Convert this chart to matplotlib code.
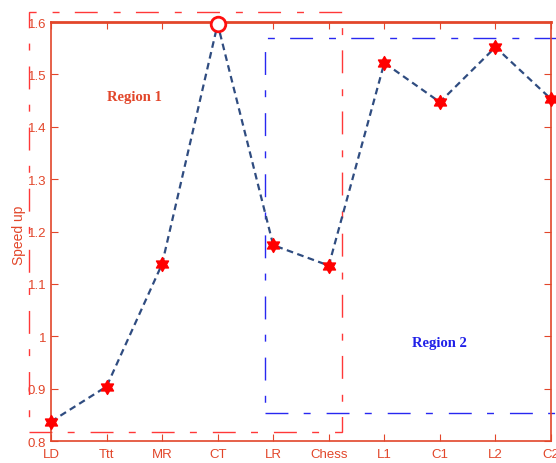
import matplotlib
matplotlib.use("Agg")
import matplotlib.pyplot as plt
from matplotlib.path import Path
from matplotlib.patches import Rectangle

categories = ['LD', 'Ttt', 'MR', 'CT', 'LR', 'Chess', 'L1', 'C1', 'L2', 'C2']
speedup = [0.837, 0.904, 1.138, 1.596, 1.174, 1.135, 1.522, 1.447, 1.552, 1.453]
yticks = [0.8, 0.9, 1.0, 1.1, 1.2, 1.3, 1.4, 1.5, 1.6]
ytick_labels = ['0.8', '0.9', '1', '1.1', '1.2', '1.3', '1.4', '1.5', '1.6']
peak_index = 3

ORANGE = '#E2462A'
LINE = '#2F4C80'

plt.rcParams['font.family'] = ['Liberation Sans', 'DejaVu Sans']
fig = plt.figure(figsize=(5.56, 4.64), dpi=100)
ax = fig.add_axes([0.0917, 0.0474, 0.8993, 0.903])

x = list(range(len(categories)))
ax.plot(x, speedup, color=LINE, lw=1.6, dashes=(3.0, 2.0), zorder=3, clip_on=False)

hexagram = Path.unit_regular_star(6, 0.577)
star_x = [xi for i, xi in enumerate(x) if i != peak_index]
star_y = [v for i, v in enumerate(speedup) if i != peak_index]
ax.plot(star_x, star_y, ls='none', marker=hexagram, ms=10, color='#FF0000',
        mec='#FF0000', zorder=4, clip_on=False)
ax.plot([x[peak_index]], [speedup[peak_index]], ls='none', marker='o', ms=10.5,
        mfc='white', mec='#FF1010', mew=2, zorder=5, clip_on=False)

# Region boxes
dash = (0, (16.5, 11, 5, 11.5))
r1 = Rectangle((-0.4, 0.818), 5.64, 0.8005, fill=False, ec='#FF3838', lw=1.0,
               ls=dash, clip_on=False, zorder=2)
r2 = Rectangle((3.85, 0.853), 5.5, 0.716, fill=False, ec='#2828F0', lw=1.0,
               ls=dash, clip_on=False, zorder=2)
ax.add_patch(r1)
ax.add_patch(r2)

ax.text(1.5, 1.458, 'Region 1', color=ORANGE, fontsize=10.5, fontweight='bold',
        family='Liberation Serif', ha='center', va='center')
ax.text(7.0, 0.9875, 'Region 2', color='#2020E8', fontsize=10.5, fontweight='bold',
        family='Liberation Serif', ha='center', va='center')

ax.set_xlim(0, 9)
ax.set_ylim(0.8, 1.6)
ax.set_xticks(x)
ax.set_xticklabels(categories)
ax.set_yticks(yticks)
ax.set_yticklabels(ytick_labels)
ax.tick_params(direction='in', length=5, width=0.8, colors=ORANGE, labelsize=9.5,
               top=True, right=True, pad=3.5)
ax.tick_params(axis='x', pad=5)
for s in ax.spines.values():
    s.set_color(ORANGE)
    s.set_linewidth(1.2)
ax.spines['top'].set_linewidth(2.0)
ax.set_ylabel('Speed up', color=ORANGE, fontsize=10)
ax.yaxis.set_label_coords(-0.050, 0.494)

fig.savefig('out.png', dpi=100)
